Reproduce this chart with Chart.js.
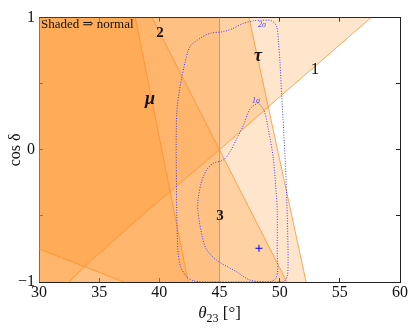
<!DOCTYPE html>
<html>
<head>
<meta charset="utf-8">
<script src="https://cdn.jsdelivr.net/npm/chart.js@4.4.0/dist/chart.umd.min.js"></script>
<style>
  html, body { margin: 0; padding: 0; background: #fff; }
</style>
</head>
<body>
<canvas id="chart" width="416" height="332"></canvas>
<script>
// axis ranges (theta_23 in degrees, cos delta)
const thetaRange = [30, 60];
const cosRange = [-1, 1];

// boundaries of the shaded regions, as [theta, cos delta]
const boundary1 = [[32.5, -1], [33.8, -0.88], [39, -0.46], [45, 0], [50.5, 0.44], [57.6, 1]];
const boundaryTau = [[47.45, 1], [52.2, -1]];
const boundary2 = [[39.4, 1], [50.6, -1]];
const boundaryMu = [[38, 1], [42.4, -1]];
const boundary3 = [[45, 1], [45, -1]];
const boundaryLow = [[30, -0.75], [37.06, -1]];

// fit contours
const contour2Sigma = [
  [41.42, -0.2], [41.4, 0.05], [41.45, 0.28], [41.62, 0.42], [41.86, 0.545], [42.13, 0.657],
  [42.55, 0.781], [43.38, 0.843], [44.21, 0.881], [45.29, 0.893], [46.12, 0.918], [46.95, 0.955],
  [47.78, 0.975], [48.51, 0.98], [49.34, 0.975], [49.75, 0.931], [49.89, 0.831], [50.03, 0.657],
  [50.17, 0.408], [50.33, 0.15], [50.47, -0.1], [50.58, -0.35], [50.66, -0.6], [50.7, -0.85],
  [50.62, -0.96], [50.3, -0.998], [49.5, -1], [44, -1], [43.38, -0.998], [42.8, -0.99],
  [42.27, -0.96], [41.75, -0.88], [41.55, -0.76], [41.45, -0.5], [41.42, -0.2]
];
const contour1Sigma = [
  [48.22, 0.358], [48.71, 0.296], [49.05, 0.159], [49.47, -0.065], [49.7, -0.313], [49.8, -0.463],
  [49.8, -0.8], [49.84, -0.91], [49.65, -0.975], [49.2, -0.998], [47.53, -0.985], [46.43, -0.923],
  [44.77, -0.836], [43.9, -0.75], [43.55, -0.65], [43.2, -0.46], [43.24, -0.363], [43.52, -0.239],
  [43.94, -0.151], [44.49, -0.102], [45.32, -0.077], [45.87, -0.015], [46.43, 0.084],
  [46.98, 0.184], [47.53, 0.308], [48.22, 0.358]
];
const bestFit = [[48.28, -0.745]];

// text placed on the plot: [text, theta, cos delta]
const annotations = [
  ['Shaded \u21D2 normal', 30.17, 0.948],
  ['2', 40.06, 0.881],
  ['\u03BC', 39.22, 0.381],
  ['\u03C4', 48.2, 0.707],
  ['1', 52.94, 0.604],
  ['3', 45.04, -0.5],
  ['2\u03C3', 48.53, 0.948],
  ['1\u03C3', 48.03, 0.373]
];

// regions are built from the boundaries plus the plot corners
const [t0, t1] = thetaRange;
const [c0, c1] = cosRange;
const region1 = [[t0, c0], ...boundary1, [t0, c1]];
const regionTau = [[t0, c1], ...boundaryTau, [t0, c0]];
const region2 = [[t0, c1], ...boundary2, [t0, c0]];
const regionMu = [[t0, c1], ...boundaryMu, [t0, c0]];
const region3 = [[t0, c1], ...boundary3, ...boundaryLow.slice().reverse()];

const toPts = arr => arr.map(([x, y]) => ({ x, y }));

const fillColor = 'rgba(255,135,20,0.22)';
const edgeColor = 'rgba(255,140,40,0.75)';
const blue = 'rgba(45,45,255,0.9)';
const serif = "'Liberation Serif', 'DejaVu Serif', serif";

const regionSet = pts => ({
  data: toPts(pts), showLine: true, fill: 'shape', backgroundColor: fillColor,
  borderWidth: 0, borderColor: 'transparent', pointRadius: 0, order: 3
});
const edgeSet = pts => ({
  data: toPts(pts), showLine: true, fill: false, borderColor: edgeColor,
  borderWidth: 1, pointRadius: 0, order: 2
});
const contourSet = pts => ({
  data: toPts(pts), showLine: true, fill: false, borderColor: blue, borderWidth: 1,
  borderDash: [1, 1.6], tension: 0.3, pointRadius: 0, order: 1
});

const labelStyles = {
  'Shaded \u21D2 normal': { font: `13px ${serif}`, color: '#111', align: 'left' },
  '2': { font: `bold 15px ${serif}`, color: '#111', align: 'center' },
  '\u03BC': { font: `bold italic 18px ${serif}`, color: '#111', align: 'center' },
  '\u03C4': { font: `bold italic 18px ${serif}`, color: '#111', align: 'center' },
  '1': { font: `17px ${serif}`, color: '#111', align: 'center' },
  '3': { font: `bold 15px ${serif}`, color: '#111', align: 'center' },
  '2\u03C3': { font: `italic 8px ${serif}`, color: blue, align: 'center' },
  '1\u03C3': { font: `italic 8px ${serif}`, color: blue, align: 'center' }
};

// x axis title with a real subscript: theta_23 [deg]
const xTitleParts = [
  ['\u03B8', `italic 17px ${serif}`, 0],
  ['23', `12px ${serif}`, 4],
  [' [\u00B0]', `17px ${serif}`, 0]
];

const labelPlugin = {
  id: 'plotLabels',
  afterDatasetsDraw(chart) {
    const { ctx, scales: { x, y } } = chart;
    ctx.save();
    ctx.textBaseline = 'middle';
    for (const [text, tx, ty] of annotations) {
      const st = labelStyles[text];
      ctx.font = st.font;
      ctx.fillStyle = st.color;
      ctx.textAlign = st.align;
      ctx.fillText(text, x.getPixelForValue(tx), y.getPixelForValue(ty));
    }
    // x title
    ctx.textBaseline = 'alphabetic';
    ctx.textAlign = 'left';
    ctx.fillStyle = '#111';
    let total = 0;
    for (const [t, f] of xTitleParts) { ctx.font = f; total += ctx.measureText(t).width; }
    let px = (chart.chartArea.left + chart.chartArea.right) / 2 - total / 2;
    const base = chart.chartArea.bottom + 36;
    for (const [t, f, dy] of xTitleParts) {
      ctx.font = f;
      ctx.fillText(t, px, base + dy);
      px += ctx.measureText(t).width;
    }
    ctx.restore();
  }
};

const tickGrid = { drawOnChartArea: false, tickLength: -4, color: '#222', lineWidth: 1 };
const frame = { display: true, color: '#222', width: 1 };

new Chart(document.getElementById('chart'), {
  type: 'scatter',
  data: {
    datasets: [
      { data: toPts(bestFit), pointStyle: 'cross', pointRadius: 3.5, borderColor: '#0000ff',
        borderWidth: 1, order: 0 },
      contourSet(contour1Sigma),
      contourSet(contour2Sigma),
      edgeSet(boundary1),
      edgeSet(boundaryTau),
      edgeSet(boundary2),
      edgeSet(boundaryMu),
      edgeSet(boundary3),
      edgeSet(boundaryLow),
      regionSet(region1),
      regionSet(regionTau),
      regionSet(region2),
      regionSet(regionMu),
      regionSet(region3)
    ]
  },
  options: {
    responsive: false,
    animation: false,
    devicePixelRatio: 1,
    layout: { padding: 0 },
    plugins: { legend: { display: false }, tooltip: { enabled: false } },
    scales: {
      x: {
        type: 'linear', position: 'bottom', min: t0, max: t1,
        grid: tickGrid, border: frame,
        ticks: { stepSize: 5, autoSkip: false, maxRotation: 0, padding: 5, color: '#111',
                 font: { family: serif, size: 16 } },
        afterFit: s => { s.height = 50; }
      },
      y: {
        type: 'linear', position: 'left', min: c0, max: c1,
        grid: tickGrid, border: frame,
        ticks: { stepSize: 0.5, autoSkip: false, padding: 8, color: '#111',
                 font: { family: serif, size: 16 },
                 callback: v => Number.isInteger(v) ? (v < 0 ? '\u2212' + Math.abs(v) : String(v)) : '' },
        title: { display: true, text: 'cos \u03B4', color: '#111',
                 font: { family: serif, size: 16 }, padding: { top: 6, bottom: 0 } },
        afterFit: s => { s.width = 39; }
      },
      x2: {
        type: 'linear', position: 'top', min: t0, max: t1,
        grid: tickGrid, border: frame,
        ticks: { display: false, stepSize: 5 },
        afterFit: s => { s.height = 14; }
      },
      y2: {
        type: 'linear', position: 'right', min: c0, max: c1,
        grid: tickGrid, border: frame,
        ticks: { display: false, stepSize: 0.5 },
        afterFit: s => { s.width = 16; }
      }
    }
  },
  plugins: [labelPlugin]
});
</script>
</body>
</html>
